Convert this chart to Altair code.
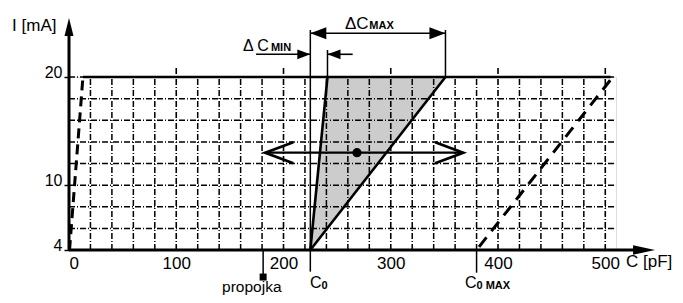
import altair as alt
import pandas as pd

FONT = "Liberation Sans"

# ---- values ----
C_TICKS = [0, 100, 200, 300, 400, 500]          # x tick labels (pF)
I_TICKS = [4, 10, 20]                           # y tick labels (mA)
GRID_C_MINOR = [20, 40, 60, 80, 120, 140, 160, 180, 220, 240, 260, 280,
                320, 340, 360, 380, 420, 440, 460, 480]
GRID_C_MAJOR = [100, 200, 300, 400, 500]
GRID_I = [6, 8, 10, 12, 14, 16, 18, 20]

C0 = 225            # C0
C0_MAX = 380        # C0 MAX
C_PROPOJKA = 181    # propojka
TRI_C = [225, 241, 351]   # shaded triangle: bottom, top-left, top-right
TRI_I = [4, 20, 20]
LEFT_DASH_C = [0.5, 13]
LEFT_DASH_I = [4, 20]
RIGHT_DASH_C = [380, 507]
RIGHT_DASH_I = [4, 20]
MID_ARROW_C = [183, 367.5]
MID_ARROW_I = 13
DOT_C = 268.5

X_END = 510
XAXIS_TIP = 546.4
YAXIS_TIP = 25.46
DCMAX_I = 24.04
DCMIN_I = 22.1
DIM_TOP = 24.35
DIM_TOP_MIN = 22.5

XS = alt.Scale(domain=[0, X_END], nice=False, zero=False)
YS = alt.Scale(domain=[4, 20], nice=False, zero=False)

XAXIS = alt.Axis(values=C_TICKS, domain=False, ticks=False, tickSize=0,
                 grid=False, labelFontSize=17, labelFont=FONT,
                 labelColor="black", labelPadding=5, title=None)
YAXIS = alt.Axis(values=I_TICKS, domain=False, ticks=True, tickSize=5,
                 tickWidth=1.5, tickColor="black", grid=False,
                 labelFontSize=16, labelFont=FONT, labelColor="black",
                 labelPadding=2, labelBaseline="alphabetic", title=None)


def X(f="c"):
    return alt.X(f"{f}:Q", scale=XS, axis=XAXIS, title=None)


def Y(f="i"):
    return alt.Y(f"{f}:Q", scale=YS, axis=YAXIS, title=None)


def X2(f="c2"):
    return alt.X2(f"{f}:Q")


def Y2(f="i2"):
    return alt.Y2(f"{f}:Q")


def segs(rows):
    return pd.DataFrame(rows, columns=["c", "i", "c2", "i2"])


def rule(rows, width=1.5, dash=None, color="black", offset=None):
    kw = dict(color=color, strokeWidth=width)
    if dash:
        kw["strokeDash"] = dash
    if offset is not None:
        kw["strokeDashOffset"] = offset
    return alt.Chart(segs(rows)).mark_rule(**kw).encode(
        x=X(), y=Y(), x2=X2(), y2=Y2())


def pts(rows):
    return pd.DataFrame(rows, columns=["c", "i"])


def arrowhead(rows, path, size, filled=True, width=2.5):
    kw = dict(shape=path, size=size, color="black", opacity=1, filled=filled)
    if not filled:
        kw["strokeWidth"] = width
    return alt.Chart(pts(rows)).mark_point(**kw).encode(x=X(), y=Y())


def label(c, i, txt, size=16, bold=False, align="left"):
    df = pd.DataFrame({"c": [c], "i": [i], "t": [txt]})
    return alt.Chart(df).mark_text(
        align=align, baseline="alphabetic", font=FONT, fontSize=size,
        fontWeight="bold" if bold else "normal", color="black"
    ).encode(x=X(), y=Y(), text="t:N")


# shaded triangle
tri = pd.DataFrame({"i": [TRI_I[0], TRI_I[1]],
                    "c": [TRI_C[0], TRI_C[1]],
                    "c2": [TRI_C[0], TRI_C[2]]})
area = alt.Chart(tri).mark_area(orient="horizontal", color="#cccccc",
                                opacity=1).encode(
    y=Y(), x=X(), x2=X2())

GDASH = [6, 2, 1, 2]
hgrid = rule([[0, v, X_END, v] for v in GRID_I], 1.5, GDASH)
vgrid_minor = rule([[v, 4, v, 20] for v in GRID_C_MINOR], 1.5, GDASH)
vgrid_major = rule([[v, 4, v, 20.85] for v in GRID_C_MAJOR], 1.6, GDASH)

top_line = rule([[LEFT_DASH_C[1], 20, RIGHT_DASH_C[1] - 2, 20]], 2.5)
tri_edges = rule([[TRI_C[0], TRI_I[0], TRI_C[1], TRI_I[1]],
                  [TRI_C[0], TRI_I[0], TRI_C[2], TRI_I[2]]], 2.6)
left_dash = rule([[LEFT_DASH_C[0], LEFT_DASH_I[0], LEFT_DASH_C[1], LEFT_DASH_I[1]]],
                 3, [10, 6])
right_dash = rule([[RIGHT_DASH_C[0], RIGHT_DASH_I[0], RIGHT_DASH_C[1], RIGHT_DASH_I[1]]],
                  3, [12, 8], offset=16)

axes_lines = rule([[0, 4, XAXIS_TIP - 8, 4], [0, 4, 0, YAXIS_TIP - 1]], 3)
x_arrow = arrowhead([[XAXIS_TIP, 4]], "M0,0 L-2,-0.43 L-2,0.43 Z", 484)
y_arrow = arrowhead([[0, YAXIS_TIP]], "M0,0 L-0.5,2 L0.5,2 Z", 324)

# dimension lines
dims = rule([[C0, 2.0, C0, DIM_TOP],
             [TRI_C[2], 20, TRI_C[2], DIM_TOP],
             [TRI_C[1], 20, TRI_C[1], DIM_TOP_MIN],
             [C0_MAX, 4, C0_MAX, 1.9],
             [C_PROPOJKA, 4, C_PROPOJKA, 1.78]], 1.5)
dim_arrows = rule([[C0, DCMAX_I, TRI_C[2], DCMAX_I],
                   [174.4, DCMIN_I, C0, DCMIN_I],
                   [TRI_C[1], DCMIN_I, 264.5, DCMIN_I]], 1.6)
ah_left = arrowhead([[C0, DCMAX_I]], "M0,0 L2,-0.75 L2,0.75 Z", 256)
ah_right = arrowhead([[TRI_C[2], DCMAX_I]], "M0,0 L-2,-0.75 L-2,0.75 Z", 256)
ahm_right = arrowhead([[C0, DCMIN_I]], "M0,0 L-2,-0.75 L-2,0.75 Z", 169)
ahm_left = arrowhead([[TRI_C[1], DCMIN_I]], "M0,0 L2,-0.75 L2,0.75 Z", 169)

# middle double arrow
mid = rule([[MID_ARROW_C[0], MID_ARROW_I, MID_ARROW_C[1], MID_ARROW_I]], 2.2)
chev_l = arrowhead([[MID_ARROW_C[0], MID_ARROW_I]], "M2,-0.75 L0,0 L2,0.75",
                   784, filled=False, width=2.8)
chev_r = arrowhead([[MID_ARROW_C[1], MID_ARROW_I]], "M-2,-0.75 L0,0 L-2,0.75",
                   784, filled=False, width=2.8)
dot = alt.Chart(pts([[DOT_C, MID_ARROW_I]])).mark_circle(
    size=85, color="black", opacity=1).encode(x=X(), y=Y())

sq = alt.Chart(pts([[C_PROPOJKA, 1.5]])).mark_square(
    size=49, color="black", opacity=1).encode(x=X(), y=Y())

texts = [
    label(-53.1, 24.25, "I [mA]", 17),
    label(519.3, 2.43, "C [pF]", 17),
    label(257.3, 24.44, "ΔC", 17),
    label(280.0, 24.44, "MAX", 11, True),
    label(162.2, 22.36, "Δ C", 16),
    label(188.3, 22.36, "MIN", 11, True),
    label(224.7, 0.45, "C", 16),
    label(235.4, 0.40, "0", 11, True),
    label(369.2, 0.45, "C", 16),
    label(379.9, 0.40, "0 MAX", 11, True),
    label(142.7, 0.12, "propojka", 15.5),
]

chart = alt.layer(
    area, hgrid, vgrid_minor, vgrid_major, top_line, tri_edges, left_dash,
    right_dash, axes_lines, x_arrow, y_arrow, dims, dim_arrows, ah_left,
    ah_right, ahm_right, ahm_left, mid, chev_l, chev_r, dot, sq, *texts
).properties(
    width=547, height=173,
    padding={"left": 61, "top": 69, "right": 59, "bottom": 45},
    autosize=alt.AutoSizeParams(type="none"),
).configure_view(stroke=None).configure(background="white")

chart.save("out.html", embed_options={"renderer": "svg", "actions": False})
